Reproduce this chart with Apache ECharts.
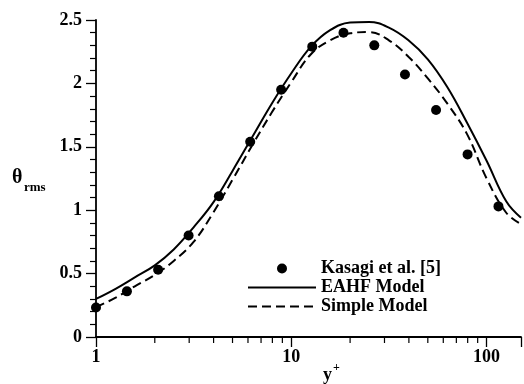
<!DOCTYPE html>
<html>
<head>
<meta charset="utf-8">
<script src="https://cdn.jsdelivr.net/npm/echarts@6/dist/echarts.min.js"></script>
<style>html,body{margin:0;padding:0;background:#fff;}#c{width:524px;height:384px;}</style>
</head>
<body>
<div id="c"></div>
<script>
// Data
const kasagiX = [1, 1.44, 2.08, 2.98, 4.26, 6.16, 8.87, 12.8, 18.5, 26.6, 38.2, 55.1, 79.9, 115];
const kasagiY = [0.232, 0.36, 0.53, 0.80, 1.11, 1.54, 1.95, 2.29, 2.40, 2.30, 2.07, 1.79, 1.44, 1.03];

const eahfX = [1, 1.26, 1.58, 2.0, 2.5, 3.16, 3.98, 5.0, 6.3, 7.94, 10, 12.6, 15.8, 20, 25, 31.6, 39.8, 50, 63, 79.4, 100, 126, 150];
const eahfY = [0.30, 0.38, 0.47, 0.565, 0.69, 0.865, 1.06, 1.31, 1.575, 1.84, 2.08, 2.29, 2.42, 2.48, 2.485, 2.44, 2.34, 2.19, 1.97, 1.69, 1.39, 1.07, 0.94];

const simpleX = [1, 1.26, 1.58, 2.0, 2.5, 3.16, 3.98, 5.0, 6.3, 7.94, 10, 12.6, 15.8, 20, 25, 31.6, 39.8, 50, 63, 79.4, 100, 126, 150];
const simpleY = [0.235, 0.31, 0.40, 0.49, 0.60, 0.75, 0.98, 1.24, 1.51, 1.77, 2.01, 2.23, 2.34, 2.395, 2.405, 2.34, 2.21, 2.04, 1.84, 1.60, 1.25, 0.98, 0.89];

const xMajorTicks = [1, 10, 100];
const xMinorTicks = [2, 3, 4, 5, 6, 7, 8, 9, 20, 30, 40, 50, 60, 70, 80, 90];

const seriesNames = ['Kasagi et al. [5]', 'EAHF Model', 'Simple Model'];

const zip = (xs, ys) => xs.map((x, i) => [x, ys[i]]);
const FONT = '"Liberation Serif", "DejaVu Serif", serif';

const chart = echarts.init(document.getElementById('c'), null, {renderer: 'canvas'});
chart.setOption({
  animation: false,
  backgroundColor: '#fff',
  grid: {left: 96, right: -3, top: 20, bottom: 47, containLabel: false},
  legend: {
    data: [
      {name: seriesNames[0], icon: 'circle'},
      {name: seriesNames[1], itemStyle: {opacity: 0}},
      {name: seriesNames[2], itemStyle: {opacity: 0}}
    ],
    orient: 'vertical',
    left: 247,
    top: 259,
    itemWidth: 68,
    itemHeight: 10,
    itemGap: 0,
    padding: 0,
    selectedMode: false,
    textStyle: {fontFamily: FONT, fontSize: 18, fontWeight: 'bold', color: '#000', lineHeight: 19}
  },
  xAxis: {
    type: 'log',
    logBase: 10,
    min: 1,
    max: 150,
    axisLine: {lineStyle: {color: '#000', width: 1.8}},
    axisTick: {inside: false, length: 10, lineStyle: {color: '#000', width: 1.3}},
    axisLabel: {
      margin: 11, fontFamily: FONT, fontSize: 18, fontWeight: 'bold', color: '#000',
      formatter: v => (xMajorTicks.some(t => Math.abs(t - v) < 1e-6) ? String(Math.round(v)) : '')
    },
    splitLine: {show: false}
  },
  yAxis: {
    type: 'value',
    min: 0,
    max: 2.5,
    interval: 0.5,
    axisLine: {show: true, lineStyle: {color: '#000', width: 1.8}},
    axisTick: {inside: false, length: 10, lineStyle: {color: '#000', width: 1.3}},
    minorTick: {show: true, splitNumber: 5, length: 6, lineStyle: {color: '#000', width: 1.2}},
    axisLabel: {margin: 14, fontFamily: FONT, fontSize: 18, fontWeight: 'bold', color: '#000'},
    splitLine: {show: false},
    minorSplitLine: {show: false}
  },
  graphic: [
    {type: 'text', left: 12, top: 168, style: {text: 'θ', font: 'bold 20px ' + FONT, fill: '#000'}},
    {type: 'text', left: 24, top: 181, style: {text: 'rms', font: 'bold 13px ' + FONT, fill: '#000'}},
    {type: 'text', left: 323, top: 366, style: {text: 'y', font: 'bold 18px ' + FONT, fill: '#000'}},
    {type: 'text', left: 333, top: 362, style: {text: '+', font: 'bold 12px ' + FONT, fill: '#000'}}
  ],
  series: [
    {
      name: seriesNames[1], type: 'line', data: zip(eahfX, eahfY),
      smooth: 0.4, symbol: 'none',
      lineStyle: {color: '#000', width: 2}, itemStyle: {color: '#000'}, z: 3
    },
    {
      name: seriesNames[2], type: 'line', data: zip(simpleX, simpleY),
      smooth: 0.4, symbol: 'none',
      lineStyle: {color: '#000', width: 2, type: [9, 5]}, itemStyle: {color: '#000'}, z: 3
    },
    {
      name: seriesNames[0], type: 'scatter', data: zip(kasagiX, kasagiY),
      symbol: 'circle', symbolSize: 10, itemStyle: {color: '#000', opacity: 1}, z: 4
    },
    {
      name: 'minorTicksX', type: 'custom', clip: false, silent: true,
      data: xMinorTicks.map(v => [v, 0]),
      renderItem: (params, api) => {
        const p = api.coord([api.value(0), 0]);
        return {type: 'line', shape: {x1: p[0], y1: p[1], x2: p[0], y2: p[1] + 6},
                style: {stroke: '#000', lineWidth: 1.2}};
      }
    }
  ]
});
</script>
</body>
</html>
